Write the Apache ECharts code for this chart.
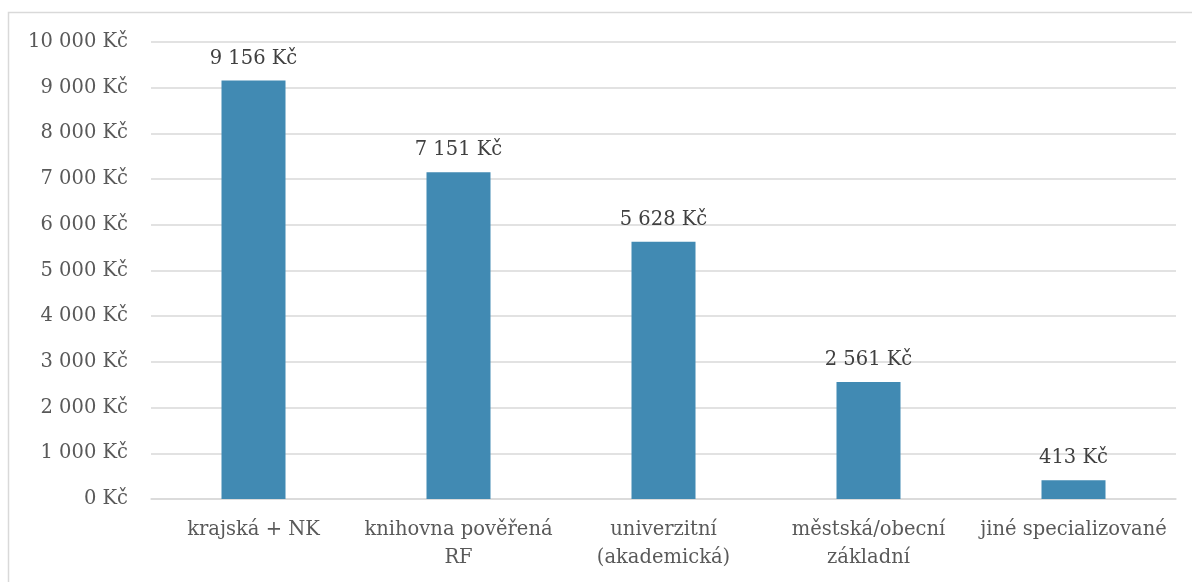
<!DOCTYPE html>
<html>
<head>
<meta charset="utf-8">
<script src="https://cdn.jsdelivr.net/npm/echarts@6/dist/echarts.min.js"></script>
<style>
  html, body { margin: 0; padding: 0; background: #fff; }
  #chart { width: 1192px; height: 582px; }
</style>
</head>
<body>
<div id="chart"></div>
<script>
  // kategorie knihoven a hodnoty v Kč
  const categories = ['krajská + NK', 'knihovna pověřená\nRF', 'univerzitní\n(akademická)', 'městská/obecní\nzákladní', 'jiné specializované'];
  const values = [9156, 7151, 5628, 2561, 413];

  const fontFamily = '"DejaVu Serif", "Liberation Serif", serif';

  function formatKc(v) {
    return String(v).replace(/\B(?=(\d{3})+(?!\d))/g, ' ') + ' Kč';
  }

  const chart = echarts.init(document.getElementById('chart'));
  chart.setOption({
    backgroundColor: '#fff',
    animation: false,
    graphic: [{
      type: 'rect',
      silent: true,
      shape: { x: 8.5, y: 12.5, width: 1200, height: 600 },
      style: { fill: 'none', stroke: '#d9d9d9', lineWidth: 1.5 }
    }],
    grid: { left: 151, right: 16, top: 42, bottom: 83 },
    xAxis: {
      type: 'category',
      data: categories,
      axisLine: { lineStyle: { color: '#d9d9d9', width: 1.5 } },
      axisTick: { show: false },
      axisLabel: {
        color: '#595959',
        fontFamily: fontFamily,
        fontSize: 19.5,
        lineHeight: 28,
        margin: 17,
        interval: 0
      }
    },
    yAxis: {
      type: 'value',
      min: 0,
      max: 10000,
      interval: 1000,
      axisLine: { show: false },
      axisTick: { show: false },
      splitLine: { lineStyle: { color: '#d9d9d9', width: 1.5 } },
      axisLabel: {
        color: '#595959',
        fontFamily: fontFamily,
        fontSize: 19.5,
        margin: 23,
        formatter: formatKc
      }
    },
    series: [{
      type: 'bar',
      data: values,
      barWidth: 64,
      itemStyle: { color: '#418ab3' },
      label: {
        show: true,
        position: 'top',
        distance: 12,
        color: '#404040',
        fontFamily: fontFamily,
        fontSize: 19.5,
        formatter: p => formatKc(p.value)
      }
    }]
  });
</script>
</body>
</html>
